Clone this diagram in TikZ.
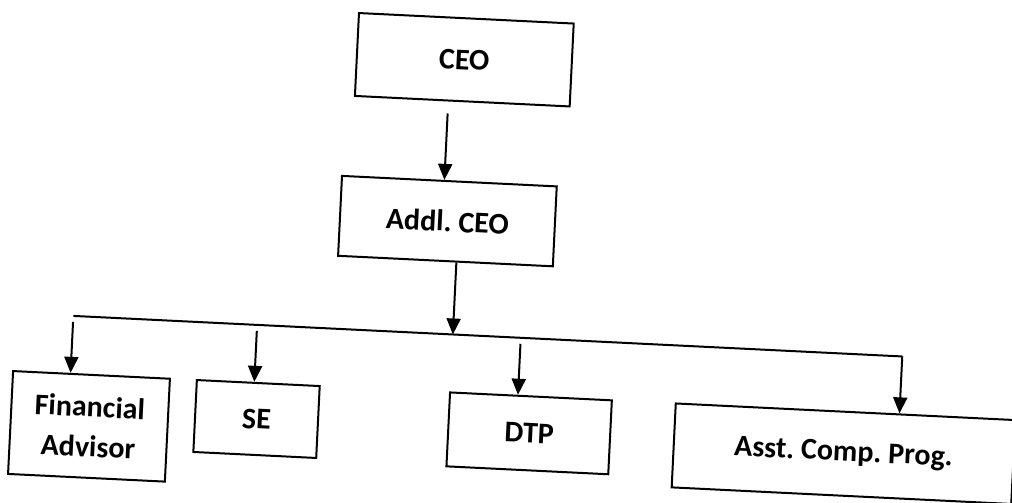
\documentclass[tikz,border=0pt]{standalone}
\usepackage{fontspec}
\setmainfont{Carlito}
\usetikzlibrary{arrows.meta}
\begin{document}
\begin{tikzpicture}[x=0.5pt, y=-0.5pt,
	box/.style={draw, line width=1pt, font=\bfseries\fontsize{15}{20}\selectfont\frenchspacing, align=center, inner sep=0pt},
	link/.style={line width=1pt, -{Triangle[width=7pt, length=8pt]}}]
	\useasboundingbox (0,0) rectangle (1012,503);
	% 扫描件略有倾斜
	\begin{scope}[rotate around={-2.8:(506,251.5)}, transform shape]
		% 上两层
		\node[box, minimum width=107.5pt, minimum height=41.5pt] (ceo) at (455,62) {CEO};
		\node[box, minimum width=107.5pt, minimum height=40pt] (addl) at (446,224) {Addl. CEO};
		
		% 下面一排
		\node[box, anchor=north, minimum width=78.5pt, minimum height=51.5pt] (fin) at (98,394) {Financial\\Advisor};
		\node[box, anchor=north, minimum width=61.5pt, minimum height=36pt] (se) at (265,394) {SE};
		\node[box, anchor=north, minimum width=81pt, minimum height=37pt] (dtp) at (538,394) {DTP};
		\node[box, anchor=north, minimum width=170pt, minimum height=42pt] (asst) at (853,394) {Asst. Comp. Prog.};
		
		% 横线上的分支点
		\coordinate (t1) at (77,337);
		\coordinate (t2) at (261,337);
		\coordinate (j) at (457,337);
		\coordinate (t3) at (525,337);
		\coordinate (t4) at (907,337);
		
		\draw[link, shorten <=6pt] ([xshift=-7pt]ceo.south) -- ([xshift=-7pt]ceo.south |- addl.north);
		\draw[link] (addl.south -| j) -- (j);
		\draw[line width=1pt] (t1) -- (t4);
		\draw[link, shorten <=3pt] (t1) -- (t1 |- fin.north);
		\draw[link, shorten <=3pt] (t2) -- (t2 |- se.north);
		\draw[link, shorten <=3pt] (t3) -- (t3 |- dtp.north);
		\draw[link] (t4) -- (t4 |- asst.north);
	\end{scope}
\end{tikzpicture}
\end{document}
